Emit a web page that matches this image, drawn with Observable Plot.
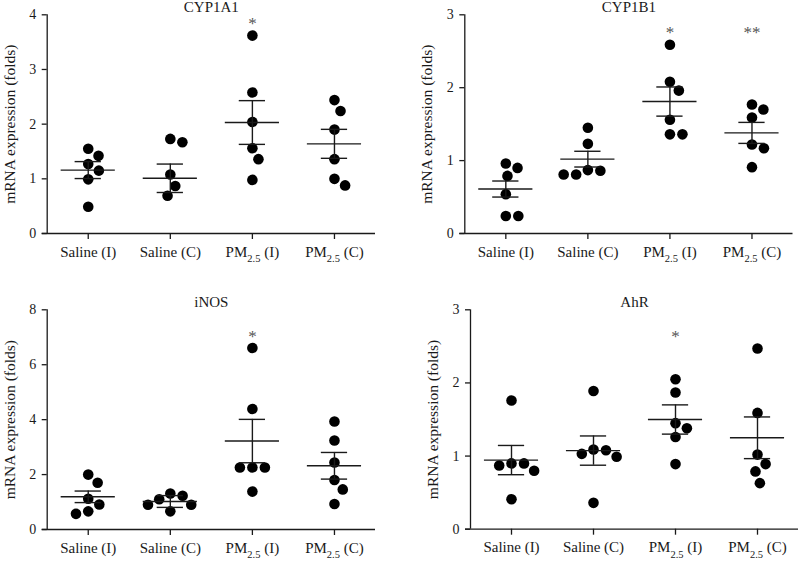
<!DOCTYPE html>
<html>
<head>
<meta charset="utf-8">
<script src="https://cdn.jsdelivr.net/npm/d3@7"></script>
<script src="https://cdn.jsdelivr.net/npm/@observablehq/plot@0.6"></script>
<style>
  html, body { margin: 0; padding: 0; background: #fff; }
  #chart { position: relative; width: 798px; height: 561px; overflow: hidden; font-family: "Liberation Serif", serif; }
  #chart .panel { position: absolute; }
</style>
</head>
<body>
<div id="chart"></div>
<script>
// ---------- data ----------
const groups = ["Saline (I)", "Saline (C)", "PM2.5 (I)", "PM2.5 (C)"];
const yLabel = "mRNA expression (folds)";

const cyp1a1Title = "CYP1A1";
const cyp1a1Points = [
  [1.55, 1.42, 1.27, 1.15, 0.99, 0.49],
  [1.73, 1.67, 1.08, 0.87, 0.69],
  [3.62, 2.58, 2.04, 1.56, 1.36, 0.98],
  [2.44, 2.24, 1.90, 1.36, 1.00, 0.88]
];
const cyp1a1Mean = [1.16, 1.01, 2.03, 1.64];
const cyp1a1Sem = [0.155, 0.26, 0.40, 0.265];
const cyp1a1Sig = ["", "", "*", ""];
const cyp1a1Ticks = [0, 1, 2, 3, 4];

const cyp1b1Title = "CYP1B1";
const cyp1b1Points = [
  [0.96, 0.90, 0.79, 0.54, 0.24, 0.24],
  [1.45, 1.23, 0.87, 0.86, 0.81, 0.81],
  [2.59, 2.08, 1.96, 1.56, 1.36, 1.36],
  [1.77, 1.70, 1.59, 1.22, 1.17, 0.91]
];
const cyp1b1Mean = [0.61, 1.02, 1.81, 1.38];
const cyp1b1Sem = [0.11, 0.108, 0.20, 0.144];
const cyp1b1Sig = ["", "", "*", "**"];
const cyp1b1Ticks = [0, 1, 2, 3];

const inosTitle = "iNOS";
const inosPoints = [
  [2.00, 1.70, 1.12, 0.91, 0.66, 0.57],
  [1.31, 1.23, 1.10, 0.90, 0.90, 0.66],
  [6.61, 4.39, 2.26, 2.26, 2.26, 1.38],
  [3.93, 3.24, 2.44, 1.80, 1.46, 0.93]
];
const inosMean = [1.19, 1.02, 3.22, 2.32];
const inosSem = [0.21, 0.215, 0.79, 0.485];
const inosSig = ["", "", "*", ""];
const inosTicks = [0, 2, 4, 6, 8];

const ahrTitle = "AhR";
const ahrPoints = [
  [1.76, 0.90, 0.90, 0.87, 0.80, 0.41],
  [1.89, 1.09, 1.08, 1.03, 0.99, 0.36],
  [2.05, 1.87, 1.45, 1.38, 1.26, 0.89],
  [2.47, 1.59, 1.02, 0.89, 0.79, 0.63]
];
const ahrMean = [0.945, 1.075, 1.50, 1.25];
const ahrSem = [0.20, 0.20, 0.20, 0.285];
const ahrSig = ["", "", "*", ""];
const ahrTicks = [0, 1, 2, 3];

// ---------- helpers ----------
// simple beeswarm: place each point as close to the centre as possible without overlap (pixel space)
function dodge(vals, pxPerY, diam) {
  const placed = [];
  return vals.map(v => {
    const y = v * pxPerY;
    const cands = [0];
    for (const p of placed) {
      const dy = Math.abs(p.y - y);
      if (dy < diam) {
        const dx = Math.sqrt(diam * diam - dy * dy);
        cands.push(p.x + dx, p.x - dx);
      }
    }
    cands.sort((a, b) => Math.abs(a) - Math.abs(b) || b - a);
    for (const c of cands) {
      if (placed.every(p => Math.hypot(p.x - c, p.y - y) >= diam - 1e-6)) {
        placed.push({x: c, y});
        return c;
      }
    }
    placed.push({x: 0, y});
    return 0;
  });
}

function subscriptLabels(svg) {
  svg.querySelectorAll('g[aria-label="x-axis tick label"] text').forEach(t => {
    const s = t.textContent;
    const m = s.match(/^PM2\.5(.*)$/);
    if (!m) return;
    t.textContent = "";
    const ns = "http://www.w3.org/2000/svg";
    const a = document.createElementNS(ns, "tspan"); a.textContent = "PM";
    const b = document.createElementNS(ns, "tspan"); b.textContent = "2.5";
    b.setAttribute("font-size", "10.5"); b.setAttribute("dy", "5.5");
    const c = document.createElementNS(ns, "tspan"); c.textContent = m[1];
    c.setAttribute("dy", "-5.5");
    t.append(a, b, c);
  });
}

function panel(cfg) {
  const {title, points, means, sems, sig, ymax, yticks, left, top, width, height, ml, mr, mt, mb, titleDy, sigDy} = cfg;
  const pxPerY = (height - mt - mb) / ymax;
  const pxPerX = (width - ml - mr) / groups.length;
  const dots = [];
  points.forEach((vals, g) => {
    const offs = dodge(vals, pxPerY, 12.5);
    vals.forEach((v, k) => dots.push({g, x: g + offs[k] / pxPerX, y: v}));
  });
  const stats = groups.map((name, g) => ({
    g, mean: means[g], lo: means[g] - sems[g], hi: means[g] + sems[g], sig: sig[g]
  }));
  const line = {stroke: "#1a1a1a", strokeWidth: 1.4};
  const svg = Plot.plot({
    width, height,
    marginLeft: ml, marginRight: mr, marginTop: mt, marginBottom: mb,
    style: {fontFamily: "'Liberation Serif', serif", fontSize: "14px", color: "#1a1a1a", background: "white", overflow: "visible"},
    x: {type: "linear", domain: [-0.5, groups.length - 0.5]},
    y: {domain: [0, ymax]},
    marks: [
      Plot.ruleX([-0.5], {stroke: "#1a1a1a", strokeWidth: 1.3}),
      Plot.ruleY([0], {stroke: "#1a1a1a", strokeWidth: 1.3, insetLeft: -5}),
      Plot.axisY({ticks: yticks, tickFormat: d => String(d), tickSize: 5, tickPadding: 6, fontSize: 14, strokeWidth: 1.3, label: null}),
      Plot.axisX({ticks: groups.map((d, i) => i), tickFormat: i => groups[i], tickSize: 6, tickPadding: 6.5, fontSize: 15, strokeWidth: 1.3, label: null}),
      Plot.text([yLabel], {frameAnchor: "left", textAnchor: "middle", rotate: -90, dx: -37.5, fontSize: 15.5, fill: "#1a1a1a"}),
      Plot.dot(dots, {x: "x", y: "y", r: 5.3, fill: "#000", stroke: "none"}),
      Plot.ruleY(stats, {y: "mean", x1: d => d.g - 0.33, x2: d => d.g + 0.33, ...line}),
      Plot.ruleY(stats, {y: "hi", x1: d => d.g - 0.16, x2: d => d.g + 0.16, ...line}),
      Plot.ruleY(stats, {y: "lo", x1: d => d.g - 0.16, x2: d => d.g + 0.16, ...line}),
      Plot.ruleX(stats, {x: "g", y1: "lo", y2: "hi", ...line}),
      Plot.text([title], {frameAnchor: "top", lineAnchor: "bottom", dy: titleDy, fontSize: 15, fill: "#1a1a1a"}),
      Plot.text(stats, {x: "g", text: "sig", frameAnchor: "top", dy: sigDy, fontSize: 17, fill: "#555"})
    ]
  });
  subscriptLabels(svg);
  svg.classList.add("panel");
  svg.style.left = left + "px";
  svg.style.top = top + "px";
  document.getElementById("chart").appendChild(svg);
}

panel({title: cyp1a1Title, points: cyp1a1Points, means: cyp1a1Mean, sems: cyp1a1Sem, sig: cyp1a1Sig,
  ymax: 4, yticks: cyp1a1Ticks, left: 0, top: 0, width: 400, height: 280,
  ml: 46.7, mr: 25, mt: 14.3, mb: 47, titleDy: -3, sigDy: 2.5});
panel({title: cyp1b1Title, points: cyp1b1Points, means: cyp1b1Mean, sems: cyp1b1Sem, sig: cyp1b1Sig,
  ymax: 3, yticks: cyp1b1Ticks, left: 400, top: 0, width: 398, height: 280,
  ml: 64.3, mr: 5.5, mt: 14.3, mb: 47, titleDy: -3, sigDy: 11.5});
panel({title: inosTitle, points: inosPoints, means: inosMean, sems: inosSem, sig: inosSig,
  ymax: 8, yticks: inosTicks, left: 0, top: 280, width: 400, height: 281,
  ml: 46.7, mr: 25, mt: 29.3, mb: 32, titleDy: -3, sigDy: 20.5});
panel({title: ahrTitle, points: ahrPoints, means: ahrMean, sems: ahrSem, sig: ahrSig,
  ymax: 3, yticks: ahrTicks, left: 400, top: 280, width: 398, height: 281,
  ml: 70, mr: 0, mt: 29.3, mb: 32.3, titleDy: -3, sigDy: 20.5});
</script>
</body>
</html>
